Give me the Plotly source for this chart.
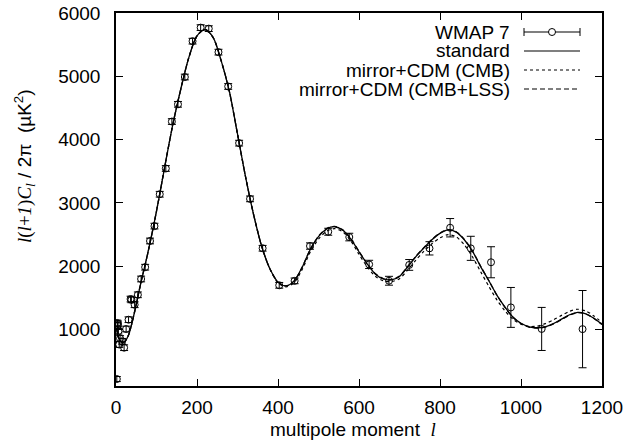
"""CMB TT power spectrum: WMAP 7 band powers against three model curves."""

import plotly.graph_objects as go

# WMAP 7 binned band powers (multipole, l(l+1)C_l/2pi in uK^2, 1-sigma error)
wmap_l = [2, 3, 4, 5, 6, 8, 10, 15, 20, 25, 31, 36, 38, 46, 54, 62, 72, 84, 95,
          108, 123, 138, 153, 170, 189, 209, 229, 253, 277, 304, 331, 362, 403,
          441, 479, 524, 576, 625, 674, 724, 774, 825, 876, 926, 975, 1051, 1152]
wmap_dl = [220, 1105, 1063, 1090, 975, 765, 860, 816, 715, 1010, 1157, 1483, 1470,
           1393, 1550, 1800, 1986, 2400, 2635, 3138, 3545, 4286, 4558, 4989, 5555,
           5769, 5753, 5382, 4840, 3945, 3065, 2285, 1700, 1770, 2320, 2546, 2462,
           2030, 1772, 2022, 2284, 2609, 2284, 2064, 1351, 1011, 1008]
wmap_err = [40, 45, 45, 45, 45, 45, 45, 45, 45, 45, 45, 45, 45, 45, 45, 45, 45,
            45, 45, 45, 45, 45, 45, 45, 45, 45, 45, 45, 45, 45, 45, 45, 45, 45, 50,
            55, 60, 65, 70, 85, 105, 145, 190, 245, 315, 340, 610]

# model curves, sampled in multipole
model_l = [2, 5, 10, 15, 20, 30, 40, 50, 60, 80, 100, 120, 140, 160, 180, 200,
           220, 240, 260, 280, 300, 320, 340, 360, 380, 400, 420, 440, 460, 480,
           500, 520, 540, 560, 580, 600, 620, 640, 660, 680, 700, 720, 740, 760,
           780, 800, 820, 840, 860, 880, 900, 920, 940, 960, 980, 1000, 1020,
           1040, 1060, 1080, 1100, 1120, 1140, 1160, 1180, 1200]
standard = [1010, 900, 830, 795, 800, 900, 1120, 1400, 1700, 2250, 2870, 3560,
            4230, 4800, 5300, 5640, 5740, 5610, 5240, 4760, 4090, 3410, 2810,
            2310, 1960, 1750, 1690, 1770, 1990, 2270, 2470, 2590, 2625, 2570,
            2430, 2230, 2040, 1880, 1800, 1785, 1840, 1990, 2150, 2290, 2420,
            2520, 2575, 2540, 2420, 2240, 2000, 1780, 1550, 1360, 1200, 1100,
            1045, 1030, 1045, 1095, 1165, 1235, 1272, 1250, 1180, 1085]
mirror_cmb = [1010, 900, 830, 795, 800, 900, 1120, 1400, 1700, 2250, 2870, 3560,
              4230, 4800, 5300, 5640, 5740, 5610, 5240, 4760, 4090, 3410, 2810,
              2310, 1960, 1740, 1675, 1745, 1955, 2230, 2430, 2555, 2595, 2545,
              2400, 2190, 1995, 1845, 1770, 1760, 1805, 1940, 2095, 2235, 2355,
              2450, 2500, 2465, 2340, 2150, 1920, 1690, 1475, 1300, 1165, 1085,
              1050, 1055, 1095, 1155, 1225, 1290, 1322, 1295, 1215, 1110]
mirror_cmb_lss = [1010, 900, 830, 795, 800, 900, 1120, 1400, 1700, 2250, 2870,
                  3560, 4230, 4800, 5300, 5640, 5740, 5610, 5240, 4760, 4090,
                  3410, 2810, 2310, 1960, 1750, 1690, 1770, 1990, 2270, 2475,
                  2595, 2630, 2575, 2435, 2235, 2045, 1885, 1805, 1790, 1845,
                  1995, 2155, 2295, 2425, 2525, 2580, 2545, 2425, 2245, 2005,
                  1780, 1550, 1355, 1195, 1095, 1040, 1025, 1040, 1090, 1160,
                  1230, 1268, 1248, 1178, 1082]

legend_labels = ["WMAP 7", "standard", "mirror+CDM (CMB)", "mirror+CDM (CMB+LSS)"]

x_ticks = [0, 200, 400, 600, 800, 1000, 1200]
y_ticks = [1000, 2000, 3000, 4000, 5000, 6000]

W, H = 642, 444
LEFT, RIGHT, TOP, BOTTOM = 116, 602, 13, 386
FS = 19
SANS = "Liberation Sans, Arial, sans-serif"
SERIF = "Liberation Serif, Times New Roman, serif"


def px_x(x):
    # pixel column -> paper coordinate
    return (x - LEFT) / (RIGHT - LEFT)


def px_y(y):
    # pixel row -> paper coordinate
    return (BOTTOM - y) / (BOTTOM - TOP)


fig = go.Figure()

fig.add_trace(
    go.Scatter(
        x=wmap_l,
        y=wmap_dl,
        mode="markers",
        marker=dict(symbol="circle-open", size=7, color="black",
                    line=dict(width=1, color="black")),
        error_y=dict(type="data", array=wmap_err, visible=True,
                     color="black", thickness=1, width=4),
        showlegend=False,
    )
)

curve_styles = [
    (standard, "solid", 1.3),
    (mirror_cmb, "dot", 1.2),
    (mirror_cmb_lss, "5px,3px", 1.3),
]
for values, dash, width in curve_styles:
    fig.add_trace(
        go.Scatter(
            x=model_l,
            y=values,
            mode="lines",
            line=dict(color="black", width=width, dash=dash, shape="spline",
                      smoothing=0.8),
            showlegend=False,
        )
    )

# hand-made key: right-aligned text with the sample to its right
annotations = []
shapes = []
rows = [32, 51, 70, 89]
x_text, x_s0, x_s1 = 512, 524, 580
for label, row in zip(legend_labels, rows):
    annotations.append(dict(
        text=label, x=px_x(x_text), y=px_y(row), xref="paper", yref="paper",
        xanchor="right", yanchor="middle", showarrow=False,
        font=dict(family=SANS, size=FS, color="black"),
    ))
dash_for_row = [None, "solid", "dot", "5px,3px"]
for row, dash in zip(rows, dash_for_row):
    shapes.append(dict(
        type="line", xref="paper", yref="paper",
        x0=px_x(x_s0), x1=px_x(x_s1), y0=px_y(row), y1=px_y(row),
        line=dict(color="black", width=1.2, dash=dash or "solid"),
    ))
# error-bar caps and the circle for the WMAP key
for xc in (x_s0, x_s1):
    shapes.append(dict(
        type="line", xref="paper", yref="paper",
        x0=px_x(xc), x1=px_x(xc), y0=px_y(rows[0] - 4), y1=px_y(rows[0] + 4),
        line=dict(color="black", width=1),
    ))
xm = (x_s0 + x_s1) / 2
shapes.append(dict(
    type="circle", xref="paper", yref="paper",
    x0=px_x(xm - 3.5), x1=px_x(xm + 3.5),
    y0=px_y(rows[0] - 3.5), y1=px_y(rows[0] + 3.5),
    line=dict(color="black", width=1), fillcolor="white",
))

# axis titles
annotations.append(dict(
    text=("multipole moment  "
          f"<span style='font-family:{SERIF}'><i>l</i></span>"),
    x=0.5 - 6 / (RIGHT - LEFT), y=px_y(429), xref="paper", yref="paper",
    xanchor="center", yanchor="middle", showarrow=False,
    font=dict(family=SANS, size=FS, color="black"),
))
annotations.append(dict(
    text=(f"<span style='font-family:{SERIF}'><i>l</i>(<i>l</i>+<i>1</i>)"
          "<i>C<sub>l</sub></i></span> / 2π  (µK<sup>2</sup>)"),
    x=px_x(24), y=px_y(166), xref="paper", yref="paper",
    xanchor="center", yanchor="middle", showarrow=False, textangle=-90,
    font=dict(family=SANS, size=FS, color="black"),
))

axis_common = dict(
    showgrid=False, zeroline=False, showline=True, linecolor="black",
    linewidth=1.5, mirror="ticks", ticks="inside", ticklen=7, tickwidth=1,
    tickcolor="black", tickfont=dict(family=SANS, size=FS, color="black"),
    automargin=False,
)

fig.update_layout(
    width=W,
    height=H,
    margin=dict(l=LEFT, r=W - RIGHT, t=TOP, b=H - BOTTOM, pad=0),
    paper_bgcolor="white",
    plot_bgcolor="white",
    xaxis=dict(range=[0, 1200], tickvals=x_ticks, ticklabelstandoff=3,
               **axis_common),
    yaxis=dict(range=[110, 6000], tickvals=y_ticks, ticklabelstandoff=10,
               **axis_common),
    annotations=annotations,
    shapes=shapes,
    showlegend=False,
)

# drop the default page margin so the figure sits at the window's corner
fig.write_html("out.html", config={"displayModeBar": False},
               post_script="document.body.style.margin='0';")
